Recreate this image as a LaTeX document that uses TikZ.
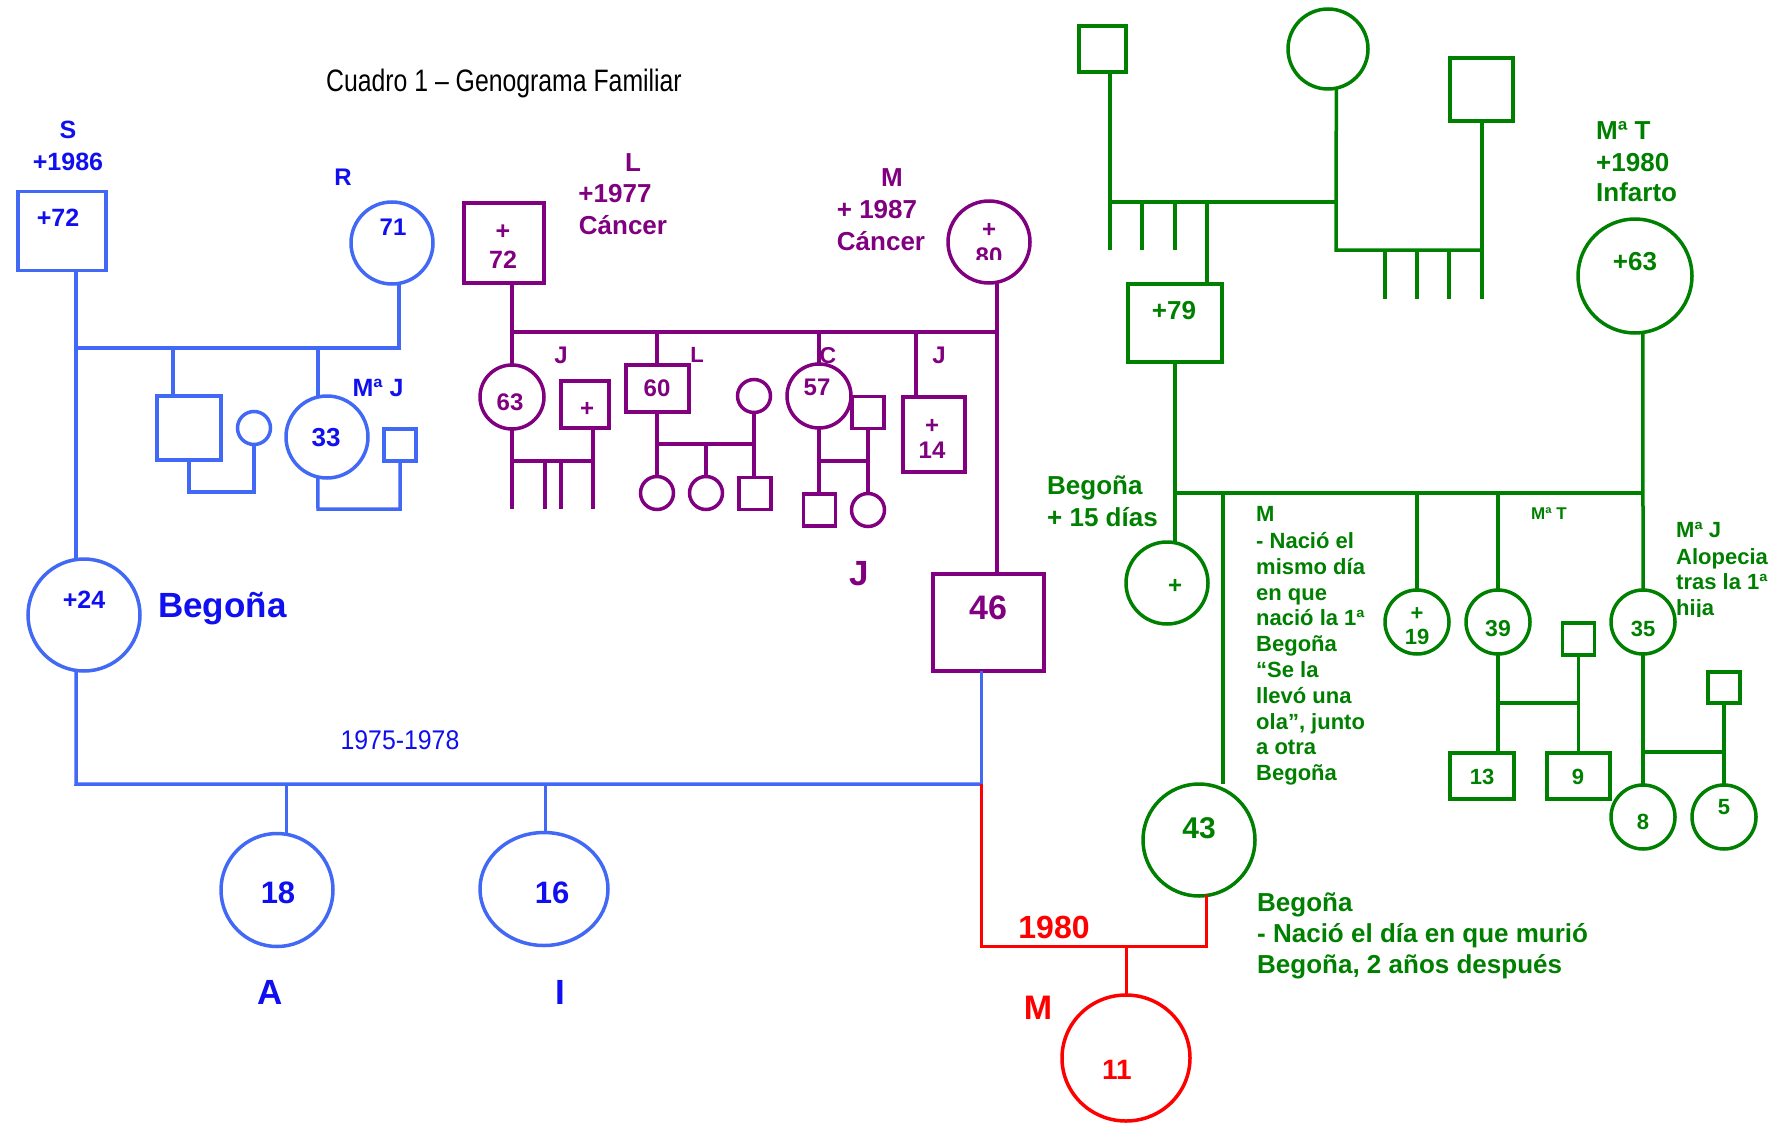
\documentclass[tikz,border=0pt]{standalone}
\usepackage{fontspec}
\setmainfont{Liberation Sans}
\usetikzlibrary{shapes.geometric}
\definecolor{cBlueLine}{RGB}{65,105,245}
\definecolor{cBlueText}{RGB}{15,15,240}
\definecolor{cPurple}{RGB}{128,0,128}
\definecolor{cGreen}{RGB}{0,128,0}
\definecolor{cRed}{RGB}{255,0,0}
\begin{document}
\begin{tikzpicture}[x=1pt,y=-1pt,
  f/.style 2 args={font=\fontsize{#1}{#1}\selectfont\bfseries, text height=#2pt, text depth=0pt, inner sep=0pt},
  fr/.style 2 args={font=\fontsize{#1}{#1}\selectfont, text height=#2pt, text depth=0pt, inner sep=0pt},
  sym/.style={draw, line width=3.5pt, inner sep=0pt, outer sep=0pt},
  sq/.style 2 args={sym, rectangle, minimum width=#1pt, minimum height=#2pt},
  ci/.style={sym, circle, minimum size=#1pt},
  el/.style 2 args={sym, ellipse, minimum width=#1pt, minimum height=#2pt},
  ln/.style={line width=3.5pt},
  lnt/.style={line width=3pt},
]
\fill[white] (0,0) rectangle (1785,1124);
\useasboundingbox (0,0) rectangle (1785,1124);

% ---------------- Title ----------------
\node[fr={31}{22.2}] (title) at (504,80) {\scalebox{0.8}[1]{Cuadro 1 – Genograma Familiar}};

% ---------------- Blue family ----------------
\begin{scope}[every node/.append style={text=cBlueText}]
\node[sq={88}{79}, draw=cBlueLine] (s72) at (62,231) {};
\node[f={25}{17.9}] (t72) at (58,218) {+72};
\node[f={25}{17.9}] (lS) at (68,130) {S};
\node[f={25}{17.9}] (l1986) at (68,162) {+1986};
\node[f={24}{17.2}] (lR) at (343,177) {R};
\node[ci=82, draw=cBlueLine] (c71) at (392,243) {};
\node[f={24}{17.2}] (t71) at (393,227) {71};
\node[sq={64}{64}, draw=cBlueLine] (bsq1) at (189,428) {};
\node[ci=33, draw=cBlueLine] (bcs1) at (254,428) {};
\node[ci=82, draw=cBlueLine] (c33) at (327,437) {};
\node[f={26}{18.6}] (t33) at (326,437) {33};
\node[f={25}{17.9}] (lMJ) at (378,388) {Mª J};
\node[sq={32}{32}, draw=cBlueLine] (bsq2) at (400,445) {};
\node[ci=112, draw=cBlueLine] (c24) at (84,615) {};
\node[f={25}{17.9}] (t24) at (84,600) {+24};
\node[f={35}{25.1}, anchor=west] (lBeg) at (158,605) {Begoña};
\node[el={112}{113}, draw=cBlueLine] (c18) at (277,890) {};
\node[f={31}{22.2}] (t18) at (278,892) {18};
\node[el={128}{113}, draw=cBlueLine] (c16) at (544,889) {};
\node[f={31}{22.2}] (t16) at (552,892) {16};
\node[f={35}{25.1}] (lA) at (270,992) {A};
\node[f={35}{25.1}] (lI) at (560,992) {I};
\node[fr={27}{19.3}] (l7578) at (400,740) {\scalebox{0.92}[1]{1975-1978}};
\end{scope}

\coordinate (bj) at (76,348);
\coordinate (b1) at (173,348);
\coordinate (b2) at (318,348);
\coordinate (b3) at (318,509);
\coordinate (b4) at (76,784);
\coordinate (b5) at (981,784);
\coordinate (b6) at (286,784);
\coordinate (b7) at (545,784);
\draw[ln, cBlueLine] (s72.south -| bj) -- (bj |- c24.north);
\draw[ln, cBlueLine] (c71.-80) |- (bj);
\draw[ln, cBlueLine] (b1) -- (b1 |- bsq1.north);
\draw[ln, cBlueLine] (bsq1.south) -- ++(0,32) -| (bcs1.south);
\draw[ln, cBlueLine] (b2) -- (b2 |- c33.north);
\draw[ln, cBlueLine] (c33.-103) -- (b3) -| (bsq2.south);
\draw[ln, cBlueLine] (c24.-98) -- (b4) -- (b5);
\draw[lnt, cBlueLine] (b6) -- (b6 |- c18.north);
\draw[lnt, cBlueLine] (b7) -- (b7 |- c16.north);

% ---------------- Purple family ----------------
\begin{scope}[every node/.append style={text=cPurple}]
\node[sq={80}{80}, draw=cPurple] (p72) at (504,243) {};
\node[f={25}{17.9}] (tp72a) at (503,231) {+};
\node[f={25}{17.9}] (tp72b) at (503,260) {72};
\node[f={26}{18.6}] (lL1) at (633,162) {L};
\node[f={26}{18.6}] (lL2) at (615,193) {+1977};
\node[f={26}{18.6}] (lL3) at (623,225) {Cáncer};
\node[f={26}{18.6}] (lM1) at (892,177) {M};
\node[f={26}{18.6}] (lM2) at (877,209) {+ 1987};
\node[f={26}{18.6}] (lM3) at (881,241) {Cáncer};
\node[ci=82, draw=cPurple] (p80) at (989,242) {};
\node[f={24}{17.2}] (tp80a) at (989,229) {+};
\begin{scope}
\clip (950,200) rectangle (1030,259);
\node[f={24}{17.2}] (tp80b) at (989,256) {80};
\end{scope}
\node[ci=64, draw=cPurple] (c63) at (512,397) {};
\node[f={24}{17.2}] (t63) at (510,402) {63};
\node[f={24}{17.2}] (lJ1) at (561,355) {J};
\node[sq={48}{47}, draw=cPurple] (sqp) at (585,404.5) {};
\node[f={24}{17.2}] (tsqp) at (587,408) {+};
\node[sq={63}{47}, draw=cPurple] (s60) at (657.5,388.5) {};
\node[f={24}{17.2}] (t60) at (657,388) {60};
\node[f={22}{15.8}] (lL4) at (697,355) {L};
\node[ci=33, draw=cPurple] (cs2) at (754,396) {};
\node[ci=33, draw=cPurple] (cc1) at (657,493) {};
\node[ci=33, draw=cPurple] (cc2) at (706,493) {};
\node[sq={32}{32}, draw=cPurple] (csq) at (755,493.5) {};
\node[ci=64, draw=cPurple] (c57) at (819,396) {};
\node[f={24}{17.2}] (t57) at (817,387) {57};
\node[f={23}{16.5}] (lC) at (828,355) {C};
\node[sq={32}{32}, draw=cPurple] (sqc) at (868,412.5) {};
\node[sq={32}{32}, draw=cPurple] (csq2) at (819.5,510) {};
\node[ci=33, draw=cPurple] (cc3) at (868,510) {};
\node[f={24}{17.2}] (lJ2) at (939,355) {J};
\node[sq={62}{75}, draw=cPurple] (s14) at (934,434.5) {};
\node[f={24}{17.2}] (t14a) at (932,425) {+};
\node[f={24}{17.2}] (t14b) at (932,450) {14};
\node[sq={111}{97}, draw=cPurple] (s46) at (988.5,622.5) {};
\node[f={34}{24.3}] (t46) at (988,607) {46};
\node[f={35}{25.1}] (lJ3) at (859,573) {J};
\end{scope}

\coordinate (p1) at (512,332);
\coordinate (p2) at (997,332);
\coordinate (p3) at (512,461);
\coordinate (p4) at (593,461);
\coordinate (p5) at (512,509);
\coordinate (p6) at (545,461);
\coordinate (p7) at (561,461);
\coordinate (p8) at (657,332);
\coordinate (p9) at (657,444);
\coordinate (p10) at (754,444);
\coordinate (p11) at (819,332);
\coordinate (p12) at (819,461);
\coordinate (p13) at (868,461);
\coordinate (p14) at (916,332);
\draw[ln, cPurple] (p72.south -| p1) -- (c63.north);
\draw[ln, cPurple] (p1) -- (p2);
\draw[ln, cPurple] (p80.-79) -- (p80.-79 |- s46.north);
\draw[ln, cPurple] (c63.south) -- (p5);
\draw[ln, cPurple] (p3) -- (p4);
\draw[ln, cPurple] (sqp.south -| p4) -- (p4 |- p5);
\draw[ln, cPurple] (p6) -- (p6 |- p5);
\draw[ln, cPurple] (p7) -- (p7 |- p5);
\draw[ln, cPurple] (p8) -- (p8 |- s60.north);
\draw[ln, cPurple] (s60.south -| cc1.north) -- (cc1.north);
\draw[ln, cPurple] (p9) -- (p10);
\draw[ln, cPurple] (cs2.south) -- (cs2.south |- csq.north);
\draw[ln, cPurple] (cc2.north |- p9) -- (cc2.north);
\draw[ln, cPurple] (p11) -- (c57.north);
\draw[ln, cPurple] (c57.south) -- (c57.south |- csq2.north);
\draw[ln, cPurple] (p12) -- (p13);
\draw[ln, cPurple] (sqc.south) -- (cc3.north);
\draw[ln, cPurple] (p14) -- (p14 |- s14.north);
\draw[lnt, cBlueLine] (s46.south -| b5) -- (b5);

% ---------------- Green family ----------------
\begin{scope}[every node/.append style={text=cGreen}]
\node[sq={47}{46}, draw=cGreen] (gs1) at (1102.5,49) {};
\node[ci=80, draw=cGreen] (gc1) at (1328,49) {};
\node[sq={63}{63}, draw=cGreen] (gs2) at (1481.5,89.5) {};
\node[sq={94}{78}, draw=cGreen] (g79) at (1175,323) {};
\node[f={26}{18.6}] (t79) at (1174,310) {+79};
\node[f={26}{18.6}, anchor=west] (lMT1) at (1596,130) {Mª T};
\node[f={26}{18.6}, anchor=west] (lMT2) at (1596,162) {+1980};
\node[f={26}{18.6}, anchor=west] (lMT3) at (1596,192) {Infarto};
\node[ci=114, draw=cGreen] (g63) at (1635,276) {};
\node[f={26}{18.6}] (t63g) at (1635,261) {+63};
\node[f={26}{18.6}, anchor=west] (lB1) at (1047,485) {Begoña};
\node[f={26}{18.6}, anchor=west] (lB2) at (1047,517) {+ 15 días};
\node[ci=82, draw=cGreen] (gplus) at (1167,583) {};
\node[f={24}{17.2}] (tplus) at (1175,585) {+};
\node[f={22}{15.8}, anchor=west] (m1) at (1256,514) {M};
\node[f={22}{15.8}, anchor=west] (m2) at (1256,541) {- Nació el};
\node[f={22}{15.8}, anchor=west] (m3) at (1256,567) {mismo día};
\node[f={22}{15.8}, anchor=west] (m4) at (1256,593) {en que};
\node[f={22}{15.8}, anchor=west] (m5) at (1256,618) {nació la 1ª};
\node[f={22}{15.8}, anchor=west] (m6) at (1256,644) {Begoña};
\node[f={22}{15.8}, anchor=west] (m7) at (1256,670) {“Se la};
\node[f={22}{15.8}, anchor=west] (m8) at (1256,696) {llevó una};
\node[f={22}{15.8}, anchor=west] (m9) at (1256,722) {ola”, junto};
\node[f={22}{15.8}, anchor=west] (m10) at (1256,747) {a otra};
\node[f={22}{15.8}, anchor=west] (m11) at (1256,773) {Begoña};
\node[ci=64, draw=cGreen] (g19) at (1417,622) {};
\node[f={22}{15.8}] (t19a) at (1417,613) {+};
\node[f={22}{15.8}] (t19b) at (1417,637) {19};
\node[ci=64, draw=cGreen] (g39) at (1498,622) {};
\node[f={23}{16.5}] (t39) at (1498,628) {39};
\node[f={17}{12.2}, anchor=west] (lMTs) at (1531,513) {Mª T};
\node[sq={32}{32}, draw=cGreen] (gsq3) at (1578.5,639) {};
\node[sq={64}{46}, draw=cGreen] (g13) at (1482,776) {};
\node[f={22}{15.8}] (t13) at (1482,777) {13};
\node[sq={63}{46}, draw=cGreen] (g9sq) at (1578.5,776) {};
\node[f={22}{15.8}] (t9) at (1578,777) {9};
\node[ci=64, draw=cGreen] (g35) at (1643,622) {};
\node[f={22}{15.8}] (t35) at (1643,629) {35};
\node[f={22}{15.8}, anchor=west] (j1) at (1676,530) {Mª J};
\node[f={22}{15.8}, anchor=west] (j2) at (1676,557) {Alopecia};
\node[f={22}{15.8}, anchor=west] (j3) at (1676,582) {tras la 1ª};
\begin{scope}
\clip (1670,590) rectangle (1785,616);
\node[f={22}{15.8}, anchor=west] (j4) at (1676,608) {hija};
\end{scope}
\node[sq={32}{31}, draw=cGreen] (gsq4) at (1724,687.5) {};
\node[ci=64, draw=cGreen] (g8c) at (1643,817) {};
\node[f={22}{15.8}] (t8) at (1643,822) {8};
\node[ci=64, draw=cGreen] (g5c) at (1724,817) {};
\node[f={22}{15.8}] (t5) at (1724,807) {5};
\node[ci=112, draw=cGreen] (g43) at (1199,840) {};
\node[f={30}{21.5}] (t43) at (1199,828) {43};
\node[f={26}{18.6}, anchor=west] (n1) at (1257,902) {Begoña};
\node[f={26}{18.6}, anchor=west] (n2) at (1257,933) {- Nació el día en que murió};
\node[f={26}{18.6}, anchor=west] (n3) at (1257,964) {Begoña, 2 años después};
\end{scope}

\coordinate (g1) at (1110,202);
\coordinate (g2) at (1336,202);
\coordinate (gt1) at (1110,250);
\coordinate (g3) at (1336,250);
\coordinate (g4) at (1482,250);
\coordinate (gt2) at (1482,299);
\coordinate (gk1) at (1142,202);
\coordinate (gk2) at (1175,202);
\coordinate (gk3) at (1207,202);
\coordinate (gk4) at (1385,250);
\coordinate (gk5) at (1417,250);
\coordinate (gk6) at (1449,250);
\coordinate (g5) at (1175,493);
\coordinate (g6) at (1643,493);
\coordinate (g7) at (1223,493);
\coordinate (g8) at (1417,493);
\coordinate (g9) at (1498,493);
\coordinate (g10) at (1498,703);
\coordinate (g11) at (1579,703);
\coordinate (g12) at (1643,752);
\coordinate (g13c) at (1724,752);
\draw[ln, cGreen] (gs1.south -| g1) -- (gt1);
\draw[ln, cGreen] (g1) -- (g2);
\draw[ln, cGreen] (gk1) -- (gk1 |- gt1);
\draw[ln, cGreen] (gk2) -- (gk2 |- gt1);
\draw[ln, cGreen] (gk3) -- (gk3 |- g79.north);
\draw[ln, cGreen] (gc1.-78) -- (g3) -- (g4);
\draw[ln, cGreen] (gs2.south -| g4) -- (gt2);
\draw[ln, cGreen] (gk4) -- (gk4 |- gt2);
\draw[ln, cGreen] (gk5) -- (gk5 |- gt2);
\draw[ln, cGreen] (gk6) -- (gk6 |- gt2);
\draw[ln, cGreen] (g79.south) -- (g79.south |- gplus.north);
\draw[ln, cGreen] (g5) -- (g6);
\draw[ln, cGreen] (g63.-82) -- (g35.north);
\draw[ln, cGreen] (g7) -- (g7 |- g43.north);
\draw[ln, cGreen] (g8) -- (g19.north);
\draw[ln, cGreen] (g9) -- (g39.north);
\draw[ln, cGreen] (g39.south) -- (g39.south |- g13.north);
\draw[ln, cGreen] (g10) -- (g11);
\draw[ln, cGreen] (gsq3.south) -- (gsq3.south |- g9sq.north);
\draw[ln, cGreen] (g35.south) -- (g8c.north);
\draw[ln, cGreen] (g12) -- (g13c);
\draw[ln, cGreen] (gsq4.south) -- (g5c.north);

% ---------------- Red ----------------
\node[el={128}{126}, draw=cRed] (r11) at (1126,1058) {};
\node[f={28}{20}, text=cRed] (t11) at (1117,1069) {11};
\node[f={32}{22.9}, text=cRed] (l1980) at (1054,927) {1980};
\node[f={34}{24.3}, text=cRed] (lMr) at (1038,1007) {M};
\coordinate (r1) at (981,946);
\coordinate (r3) at (1126,946);
\draw[lnt, cRed] (b5) -- (r1) -| (g43.-82);
\draw[lnt, cRed] (r3) -- (r11.north);
\end{tikzpicture}
\end{document}
